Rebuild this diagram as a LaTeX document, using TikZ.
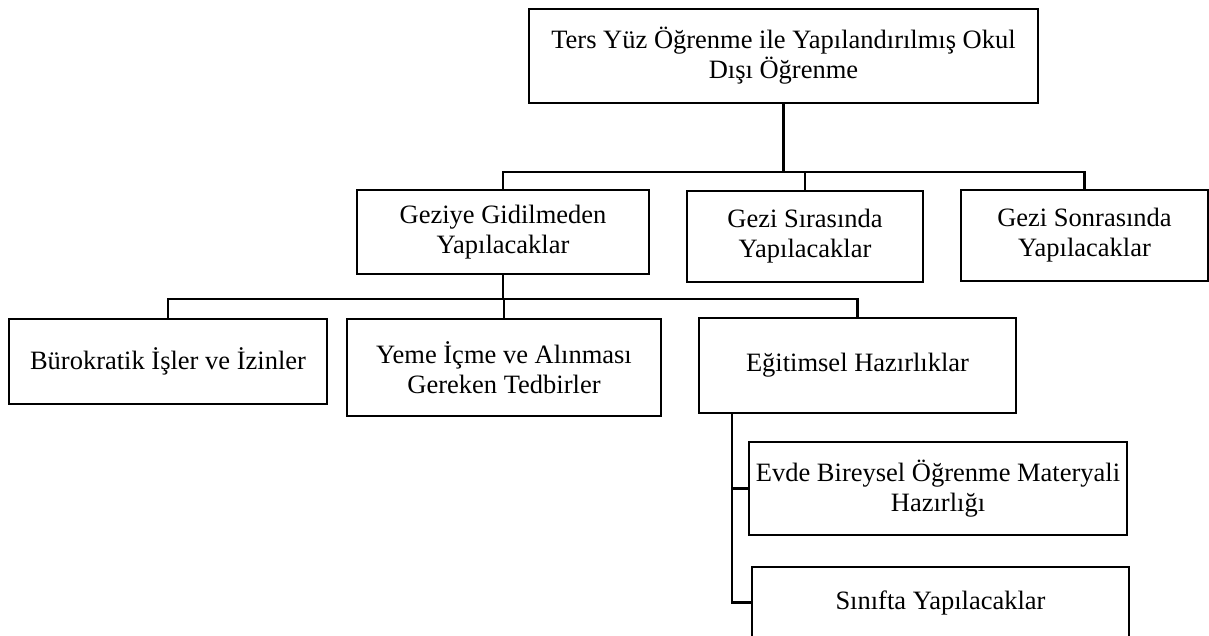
\documentclass[tikz,border=0pt]{standalone}
\usepackage{fontspec}
\setmainfont{Liberation Serif}
\usetikzlibrary{positioning}
\tikzset{
    %Define style for boxes
    kutu/.style={
           rectangle,
           draw=black, line width=2.4pt,
           inner sep=2pt,
           align=center,
           font=\fontsize{26.5}{30}\selectfont},
    % Define connector style
    bag/.style={
           draw=black,
           line width=2.4pt}
}

\begin{document}
\begin{tikzpicture}[x=1pt,y=-1pt]
  \useasboundingbox (0,0) rectangle (1209,635);
  \clip (0,0) rectangle (1209,635);
  % main box
  \node[kutu,minimum width=509pt,minimum height=94pt] (ust) at (783.5,56) {Ters Yüz Öğrenme ile Yapılandırılmış Okul\\Dışı Öğrenme};
  % second row
  \node[kutu,minimum width=292pt,minimum height=84pt] (once) at (503,232) {Geziye Gidilmeden\\Yapılacaklar};
  \node[kutu,minimum width=236pt,minimum height=91pt] (sirasinda) at (805,236.5) {Gezi Sırasında\\Yapılacaklar};
  \node[kutu,minimum width=247pt,minimum height=91pt] (sonra) at (1084.5,235.5) {Gezi Sonrasında\\Yapılacaklar};
  % third row
  \node[kutu,minimum width=318pt,minimum height=85pt] (burokratik) at (168,361.5) {Bürokratik İşler ve İzinler};
  \node[kutu,minimum width=314pt,minimum height=97pt] (yeme) at (504,367.5) {Yeme İçme ve Alınması\\Gereken Tedbirler};
  \node[kutu,minimum width=317pt,minimum height=95pt] (egitim) at (857.5,365.5) {Eğitimsel Hazırlıklar};
  % under egitim
  \node[kutu,minimum width=378pt,minimum height=93pt] (evde) at (938,488.5) {Evde Bireysel Öğrenme Materyali\\Hazırlığı};
  \node[kutu,minimum width=377pt,minimum height=71pt] (sinif) at (940.5,602.5) {Sınıfta Yapılacaklar};

  \draw[bag] (ust.south) -- ++(0,68) coordinate (ortak);
  \draw[bag] (once.north) |- (ortak) -| (sonra.north);
  \draw[bag] (sirasinda.north) -- (sirasinda.north |- ortak);
  \draw[bag] (once.south) -- ++(0,24) coordinate (alt);
  \draw[bag] (burokratik.north) |- (alt) -| (egitim.north);
  \draw[bag] (yeme.north) -- (yeme.north |- alt);
  \draw[bag] ([xshift=34pt]egitim.south west) |- (evde.west);
  \draw[bag] ([xshift=34pt]egitim.south west) |- (sinif.west);
\end{tikzpicture}
\end{document}
